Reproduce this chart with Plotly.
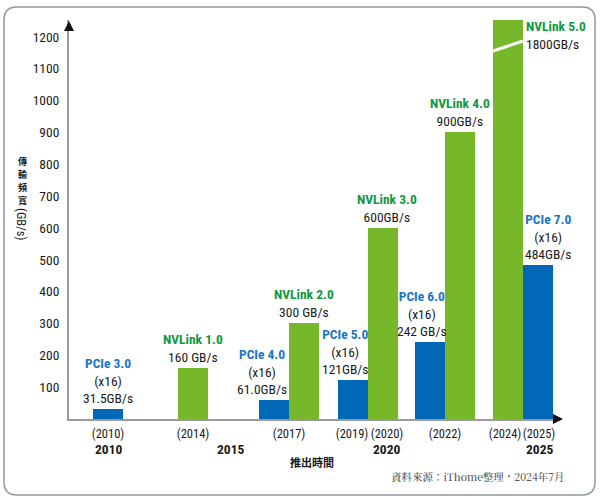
import plotly.graph_objects as go

# data
pcie_names = ["PCIe 3.0", "PCIe 4.0", "PCIe 5.0", "PCIe 6.0", "PCIe 7.0"]
pcie_years = ["(2010)", "(2017)", "(2019)", "(2022)", "(2025)"]
pcie_bw = [31.5, 61.0, 121, 242, 484]
pcie_bw_text = ["31.5GB/s", "61.0GB/s", "121GB/s", "242 GB/s", "484GB/s"]

nvlink_names = ["NVLink 1.0", "NVLink 2.0", "NVLink 3.0", "NVLink 4.0", "NVLink 5.0"]
nvlink_years = ["(2014)", "(2017)", "(2020)", "(2022)", "(2024)"]
nvlink_bw = [160, 300, 600, 900, 1800]
nvlink_bw_text = ["160 GB/s", "300 GB/s", "600GB/s", "900GB/s", "1800GB/s"]

y_ticks = [100, 200, 300, 400, 500, 600, 700, 800, 900, 1000, 1100, 1200]
year_labels = ["(2010)", "(2014)", "(2017)", "(2019)", "(2020)", "(2022)", "(2024)", "(2025)"]
era_labels = ["2010", "2015", "2020", "2025"]

y_title = "傳輸頻寬"
y_unit = "(GB/s)"
x_title = "推出時間"
source = "資料來源：iThome整理，2024年7月"

# layout: slot positions on the x axis (the drawing is not to a time scale)
pcie_x = [39, 205, 284, 361, 469]
nvlink_x = [124, 235, 314, 391, 439]
year_x = [39, 124, 220, 283, 318, 376, 436, 470]
era_x = [39, 161, 317, 470]
pcie_shift = [0, -12, -8, -8, 10]
nvlink_shift = [0, 0, 4, 0, 0]
bar_w = 30

BLUE = "#0068b7"
GREEN = "#76b82a"
BLUE_TXT = "#1b74c0"
GREEN_TXT = "#0f983d"
FONT = "Roboto Condensed, DejaVu Sans Condensed, sans-serif"
CJK = "Noto Sans CJK TC"
INK = "#1a1a1a"

W, H = 600, 500
L, R, T, B = 69, 40, 20, 81
Y_TOP = 1253
X_MAX = W - L - R


def px(x):
    return (x - L) / (W - L - R)


def py(y):
    return (H - B - y) / (H - T - B)


fig = go.Figure()
fig.add_trace(go.Bar(x=pcie_x, y=pcie_bw, width=bar_w, marker=dict(color=BLUE, line=dict(width=0)),
                     hoverinfo="skip"))
fig.add_trace(go.Bar(x=nvlink_x, y=nvlink_bw, width=bar_w, marker=dict(color=GREEN, line=dict(width=0)),
                     hoverinfo="skip"))

lab_font = dict(size=13.5, color=INK, family=FONT)
ann = []
for n, t, xx, yy, s in zip(pcie_names, pcie_bw_text, pcie_x, pcie_bw, pcie_shift):
    ann.append(dict(x=xx, y=yy, xref="x", yref="y", xanchor="center", yanchor="bottom", yshift=1, xshift=s,
                    text=f"<span style='color:{BLUE_TXT}'><b>{n}</b></span><br>(x16)<br>{t}",
                    showarrow=False, font=lab_font))

for n, t, xx, yy, s in zip(nvlink_names, nvlink_bw_text, nvlink_x, nvlink_bw, nvlink_shift):
    txt = f"<span style='color:{GREEN_TXT}'><b>{n}</b></span><br>{t}"
    if yy > Y_TOP:
        # bar runs off the top: label beside it
        ann.append(dict(x=xx + bar_w / 2, y=1, xref="x", yref="paper", xanchor="left", yanchor="top",
                        xshift=1, yshift=4, align="left", text=txt, showarrow=False, font=lab_font))
    else:
        ann.append(dict(x=xx, y=yy, xref="x", yref="y", xanchor="center", yanchor="bottom", yshift=1, xshift=s,
                        text=txt, showarrow=False, font=lab_font))

for lab, xx in zip(era_labels, era_x):
    ann.append(dict(x=xx, y=py(449), xref="x", yref="paper", xanchor="center", yanchor="middle",
                    text=f"<b>{lab}</b>", showarrow=False, font=dict(size=13.5, color=INK, family=FONT)))

# y title: upright characters stacked one by one, then the rotated unit
for k, ch in enumerate(y_title):
    ann.append(dict(x=px(22), y=py(161 + 13 * k), xref="paper", yref="paper", xanchor="center",
                    yanchor="middle", text=f"<b>{ch}</b>", showarrow=False,
                    font=dict(size=9, color=INK, family=CJK)))
ann.append(dict(x=px(22), y=py(224), xref="paper", yref="paper", xanchor="center", yanchor="middle",
                text=y_unit, textangle=90, showarrow=False, font=dict(size=12.5, color=INK, family=FONT)))

ann.append(dict(x=px(312), y=py(462), xref="paper", yref="paper", xanchor="center", yanchor="middle",
                text=f"<b>{x_title}</b>", showarrow=False, font=dict(size=11, color=INK, family=CJK)))
ann.append(dict(x=px(567), y=py(477), xref="paper", yref="paper", xanchor="right", yanchor="middle",
                text=source, showarrow=False,
                font=dict(size=10.5, color="#333333", family="Noto Serif CJK TC, DejaVu Serif, serif")))

# axis arrowheads
ann.append(dict(x=0, y=py(21), xref="x", yref="paper", ax=0, ay=9, text="", showarrow=True,
                arrowhead=2, arrowsize=1, arrowwidth=2, arrowcolor="#111111"))
ann.append(dict(x=px(563), y=0, xref="paper", yref="paper", ax=-9, ay=0, text="", showarrow=True,
                arrowhead=2, arrowsize=1, arrowwidth=2, arrowcolor="#111111"))

shapes = []
# break mark across the clipped bar
for xx, yy in zip(nvlink_x, nvlink_bw):
    if yy > Y_TOP:
        shapes.append(dict(type="line", xref="x", yref="paper", x0=xx - bar_w / 2, x1=xx + bar_w / 2,
                           y0=py(51), y1=py(41), line=dict(color="white", width=3)))

# rounded frame
x0, x1, y0, y1, r = 4, 595, 7, 495, 13
path = (f"M {px(x0 + r)},{py(y0)} L {px(x1 - r)},{py(y0)} "
        f"Q {px(x1)},{py(y0)} {px(x1)},{py(y0 + r)} L {px(x1)},{py(y1 - r)} "
        f"Q {px(x1)},{py(y1)} {px(x1 - r)},{py(y1)} L {px(x0 + r)},{py(y1)} "
        f"Q {px(x0)},{py(y1)} {px(x0)},{py(y1 - r)} L {px(x0)},{py(y0 + r)} "
        f"Q {px(x0)},{py(y0)} {px(x0 + r)},{py(y0)} Z")
shapes.append(dict(type="path", xref="paper", yref="paper", path=path, line=dict(color="#8e979c", width=1.5)))

fig.update_layout(
    width=W, height=H,
    margin=dict(l=L, r=R, t=T, b=B),
    paper_bgcolor="white", plot_bgcolor="white",
    showlegend=False, bargap=0,
    font=dict(family=FONT, size=13.5, color=INK),
    annotations=ann, shapes=shapes,
)
fig.update_xaxes(range=[0, X_MAX], tickvals=year_x, ticktext=year_labels, tickangle=0, showgrid=False,
                 zeroline=False, showline=True, linecolor="#9a9a9a", linewidth=2, ticks="",
                 tickfont=dict(size=12.5), ticklabelstandoff=2)
fig.update_yaxes(range=[0, Y_TOP], tickvals=y_ticks, showgrid=False, zeroline=False,
                 showline=True, linecolor="#9a9a9a", linewidth=2, ticks="", tickfont=dict(size=13.5),
                 ticklabelstandoff=5)

# the page's default body margin would push the figure 8px off
fig.write_html("out.html", config={"displayModeBar": False},
               post_script="document.body.style.margin='0';")
